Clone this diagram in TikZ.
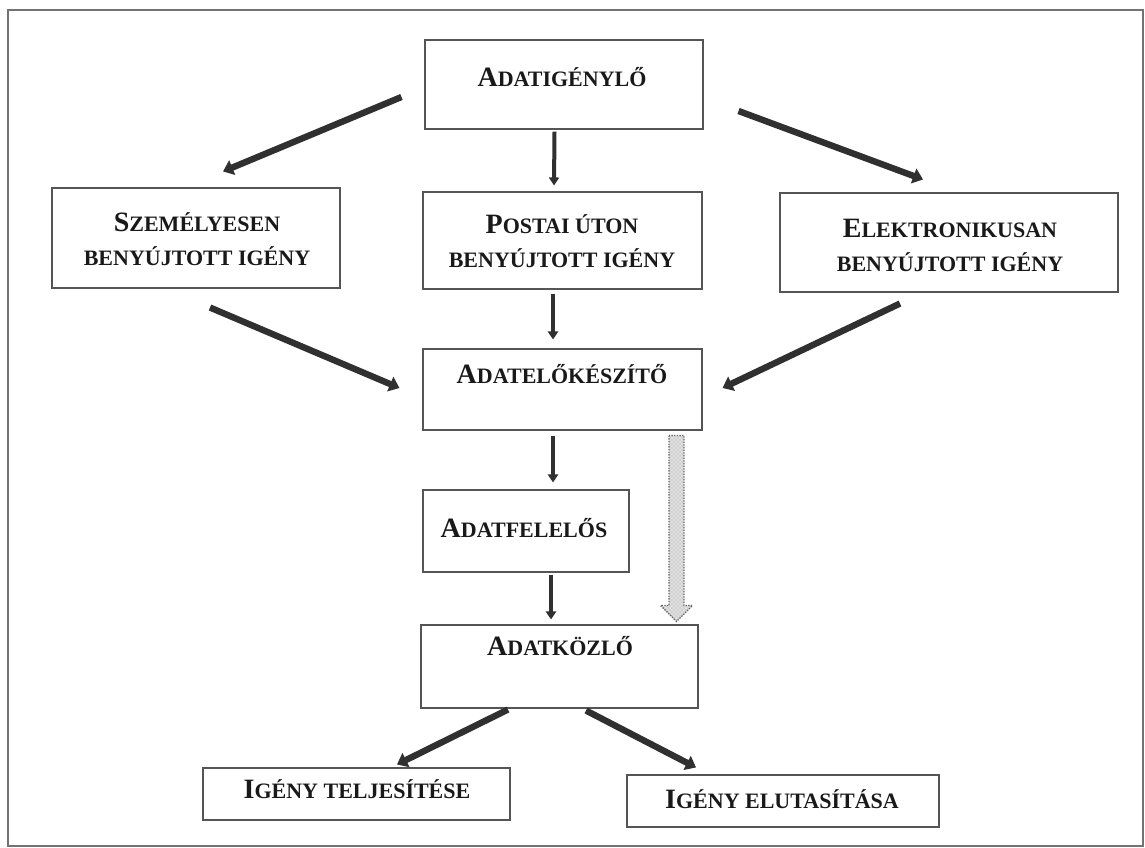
\documentclass[tikz,border=0pt]{standalone}
\usepackage{fontspec}
\setmainfont{Liberation Serif}
\usetikzlibrary{arrows.meta,calc,patterns}
\newcommand\capL[1]{{\fontsize{21}{25.5}\selectfont #1}}
\newcommand\mybox[5]{\node[box,minimum width=#4*0.75pt,minimum height=#5*0.75pt] (#1) at (#2,#3) {};}
\definecolor{arrowgray}{HTML}{303030}
\definecolor{boxline}{HTML}{555555}
\tikzset{
  box/.style={draw=boxline,line width=0.8pt,inner sep=0pt,fill=white},
  lbl/.style={font=\bfseries\fontsize{16.5}{25.5}\selectfont,align=center,inner sep=0pt,text=black!90},
  bigarrow/.style={draw=arrowgray,line width=4.8pt,-{Triangle[width=11.5pt,length=7.5pt]}},
  smallarrow/.style={draw=arrowgray,line width=3pt,-{Triangle[width=7.5pt,length=6pt]}},
  framebox/.style={draw=black!55,line width=0.9pt},
}
\begin{document}
\begin{tikzpicture}[x=0.75pt,y=-0.75pt]
\useasboundingbox (0,0) rectangle (1145,848);
\draw[framebox] (8,10) rectangle (1143,846);

% boxes
\mybox{top}{564}{84.5}{278}{89}
\mybox{pers}{196}{238}{288}{100}
\mybox{post}{562.5}{240.5}{279}{97}
\mybox{elec}{949}{242.5}{338}{99}
\mybox{prep}{562.5}{389.5}{279}{81}
\mybox{resp}{526}{531}{206}{82}
\mybox{comm}{559.5}{666.5}{277}{83}
\mybox{ok}{356.5}{794}{307}{52}
\mybox{rej}{783}{801}{312}{52}

% labels
\node[lbl,anchor=base] (ttop) at (562,87) {\capL{A}DATIGÉNYLŐ};
\node[lbl] (tpers) at (197,239) {\capL{S}ZEMÉLYESEN\\BENYÚJTOTT IGÉNY};
\node[lbl] (tpost) at (562,241) {\capL{P}OSTAI ÚTON\\BENYÚJTOTT IGÉNY};
\node[lbl] (telec) at (950,245) {\capL{E}LEKTRONIKUSAN\\BENYÚJTOTT IGÉNY};
\node[lbl,anchor=base] (tprep) at (562,383) {\capL{A}DATELŐKÉSZÍTŐ};
\node[lbl,anchor=base] (tresp) at (524,537) {\capL{A}DATFELELŐS};
\node[lbl,anchor=base] (tcomm) at (560,655) {\capL{A}DATKÖZLŐ};
\node[lbl,anchor=base] (tok) at (357,798) {\capL{I}GÉNY TELJESÍTÉSE};
\node[lbl,anchor=base] (trej) at (782,808) {\capL{I}GÉNY ELUTASÍTÁSA};

% connectors
\draw[bigarrow] ([shift={(-23,12.5)}]top.west) -- ([shift={(27,-16)}]pers.north);
\draw[smallarrow] ([shift={(-9.5,2)}]top.south) -- ([shift={(-8.5,-6)}]post.north);
\draw[bigarrow] ([shift={(35,26.5)}]top.east) -- ([shift={(-26,-13)}]elec.north);
\draw[bigarrow] ([shift={(14,19)}]pers.south) -- ([shift={(-23,-1.5)}]prep.west);
\draw[smallarrow] ([shift={(-9.5,4)}]post.south) -- ([shift={(-9.5,-9)}]prep.north);
\draw[bigarrow] ([shift={(-49,11)}]elec.south) -- ([shift={(20,-1.5)}]prep.east);
\draw[smallarrow] ([shift={(-9.5,5)}]prep.south) -- ([shift={(27,-7)}]resp.north);
\draw[smallarrow] ([shift={(25,2)}]resp.south) -- ([shift={(-8.5,-5)}]comm.north);
\draw[bigarrow] ([shift={(-51.5,1)}]comm.south) -- ([shift={(40.5,-3)}]ok.north);
\draw[bigarrow] ([shift={(26.5,2)}]comm.south) -- ([shift={(-87,-7)}]rej.north);

% dotted block arrow
\coordinate (ds) at ([shift={(-26,5)}]prep.south east);
\coordinate (dt) at ([shift={(-22,-3)}]comm.north east);
\path[fill=gray!25]
  ([shift={(-7.5,0)}]ds) -- ([shift={(-7.5,-16)}]dt) -- ([shift={(-16,-16)}]dt) -- (dt)
  -- ([shift={(16,-16)}]dt) -- ([shift={(7.5,-16)}]dt) -- ([shift={(7.5,0)}]ds) -- cycle;
\path[pattern=crosshatch dots,pattern color=gray!70]
  ([shift={(-7.5,0)}]ds) -- ([shift={(-7.5,-16)}]dt) -- ([shift={(-16,-16)}]dt) -- (dt)
  -- ([shift={(16,-16)}]dt) -- ([shift={(7.5,-16)}]dt) -- ([shift={(7.5,0)}]ds) -- cycle;
\draw[draw=black!60,densely dotted,line width=1pt]
  ([shift={(-7.5,0)}]ds) -- ([shift={(-7.5,-16)}]dt) -- ([shift={(-16,-16)}]dt) -- (dt)
  -- ([shift={(16,-16)}]dt) -- ([shift={(7.5,-16)}]dt) -- ([shift={(7.5,0)}]ds) -- cycle;
\end{tikzpicture}
\end{document}
